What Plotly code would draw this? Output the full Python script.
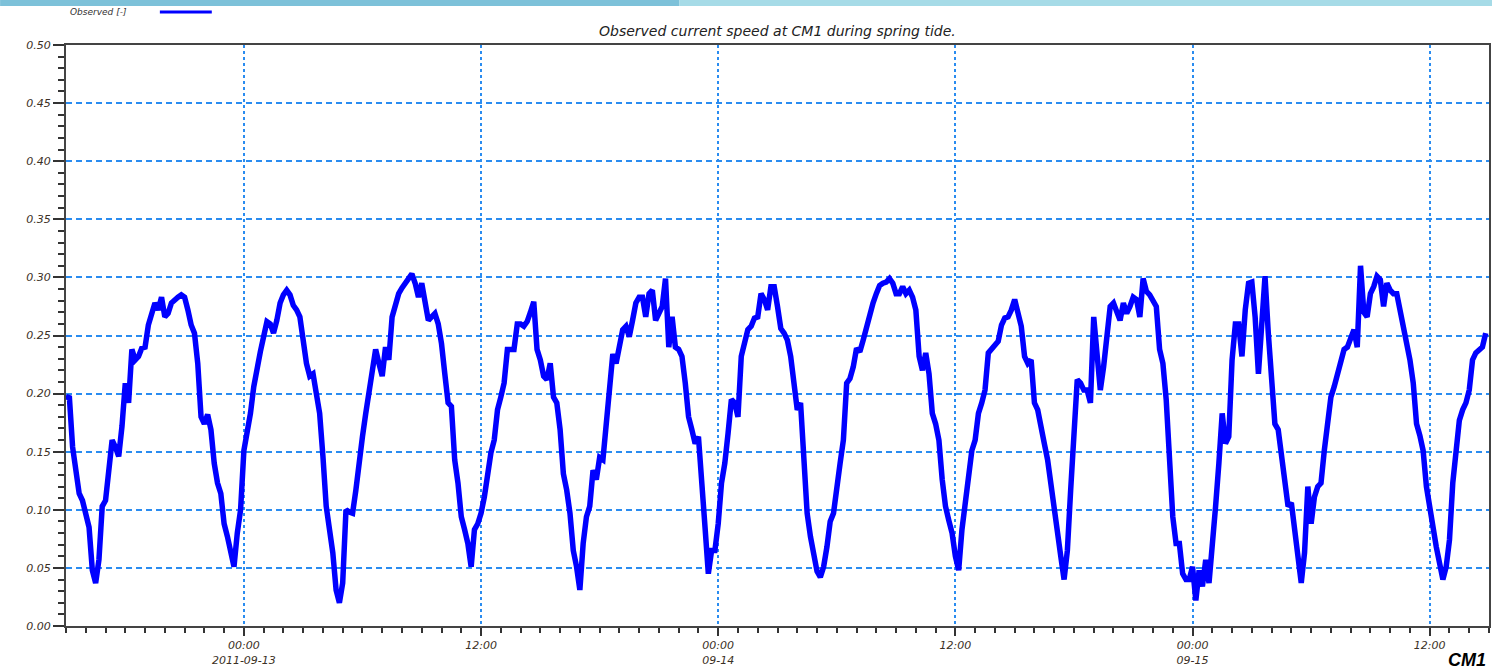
import pandas as pd
import plotly.graph_objects as go

# Observed current speed at CM1, 10-minute samples from 2011-09-12 15:00
start_time = "2011-09-12 15:00"
speed = [
    0.195, 0.198, 0.154, 0.131, 0.114, 0.108, 0.097, 0.085, 0.048, 0.037, 0.057, 0.103,
    0.108, 0.134, 0.160, 0.154, 0.146, 0.172, 0.209, 0.192, 0.238, 0.229, 0.232, 0.239,
    0.240, 0.259, 0.269, 0.278, 0.272, 0.283, 0.266, 0.269, 0.278, 0.281, 0.283, 0.285,
    0.283, 0.272, 0.259, 0.252, 0.226, 0.180, 0.174, 0.182, 0.169, 0.140, 0.123, 0.114,
    0.088, 0.077, 0.063, 0.051, 0.080, 0.100, 0.151, 0.166, 0.183, 0.206, 0.225, 0.236,
    0.249, 0.262, 0.260, 0.252, 0.263, 0.278, 0.285, 0.289, 0.285, 0.276, 0.272, 0.266,
    0.246, 0.226, 0.215, 0.217, 0.200, 0.183, 0.146, 0.103, 0.083, 0.063, 0.031, 0.020,
    0.037, 0.100, 0.098, 0.097, 0.117, 0.146, 0.163, 0.183, 0.203, 0.226, 0.238, 0.226,
    0.215, 0.240, 0.229, 0.266, 0.278, 0.286, 0.291, 0.295, 0.301, 0.303, 0.295, 0.283,
    0.295, 0.278, 0.263, 0.266, 0.269, 0.260, 0.243, 0.217, 0.192, 0.189, 0.143, 0.123,
    0.094, 0.083, 0.071, 0.051, 0.083, 0.088, 0.097, 0.111, 0.131, 0.149, 0.160, 0.186,
    0.197, 0.209, 0.238, 0.238, 0.238, 0.260, 0.260, 0.258, 0.262, 0.270, 0.279, 0.238,
    0.229, 0.215, 0.212, 0.226, 0.197, 0.192, 0.169, 0.131, 0.117, 0.097, 0.065, 0.051,
    0.031, 0.071, 0.094, 0.103, 0.134, 0.126, 0.145, 0.143, 0.174, 0.203, 0.234, 0.226,
    0.238, 0.255, 0.258, 0.249, 0.263, 0.278, 0.283, 0.283, 0.266, 0.286, 0.289, 0.263,
    0.269, 0.275, 0.299, 0.240, 0.266, 0.240, 0.238, 0.232, 0.209, 0.180, 0.169, 0.157,
    0.163, 0.129, 0.085, 0.045, 0.065, 0.065, 0.088, 0.123, 0.140, 0.166, 0.195, 0.192,
    0.180, 0.232, 0.243, 0.255, 0.258, 0.265, 0.266, 0.286, 0.281, 0.272, 0.292, 0.292,
    0.275, 0.256, 0.252, 0.246, 0.232, 0.203, 0.186, 0.192, 0.151, 0.097, 0.077, 0.060,
    0.047, 0.042, 0.051, 0.068, 0.090, 0.097, 0.123, 0.140, 0.160, 0.209, 0.213, 0.223,
    0.239, 0.236, 0.246, 0.258, 0.269, 0.278, 0.286, 0.293, 0.295, 0.296, 0.299, 0.295,
    0.286, 0.286, 0.292, 0.286, 0.289, 0.283, 0.272, 0.232, 0.220, 0.235, 0.217, 0.183,
    0.174, 0.160, 0.126, 0.103, 0.091, 0.080, 0.060, 0.048, 0.083, 0.106, 0.129, 0.151,
    0.160, 0.183, 0.192, 0.203, 0.235, 0.239, 0.243, 0.245, 0.259, 0.265, 0.266, 0.272,
    0.281, 0.270, 0.258, 0.232, 0.226, 0.229, 0.192, 0.186, 0.174, 0.157, 0.143, 0.120,
    0.097, 0.077, 0.060, 0.040, 0.065, 0.117, 0.160, 0.212, 0.209, 0.203, 0.203, 0.192,
    0.266, 0.238, 0.203, 0.223, 0.252, 0.275, 0.278, 0.269, 0.263, 0.278, 0.269, 0.275,
    0.283, 0.281, 0.266, 0.299, 0.288, 0.285, 0.281, 0.275, 0.238, 0.226, 0.195, 0.146,
    0.094, 0.071, 0.071, 0.045, 0.040, 0.040, 0.051, 0.022, 0.048, 0.034, 0.057, 0.037,
    0.065, 0.103, 0.140, 0.183, 0.157, 0.163, 0.229, 0.260, 0.260, 0.232, 0.272, 0.295,
    0.296, 0.266, 0.217, 0.266, 0.301, 0.252, 0.203, 0.174, 0.169, 0.146, 0.123, 0.103,
    0.106, 0.083, 0.065, 0.037, 0.063, 0.120, 0.088, 0.111, 0.120, 0.123, 0.151, 0.172,
    0.197, 0.206, 0.217, 0.226, 0.238, 0.240, 0.249, 0.255, 0.240, 0.310, 0.270, 0.266,
    0.286, 0.292, 0.301, 0.298, 0.275, 0.295, 0.289, 0.286, 0.286, 0.272, 0.258, 0.243,
    0.229, 0.209, 0.174, 0.164, 0.151, 0.120, 0.100, 0.083, 0.068, 0.054, 0.040, 0.051,
    0.074, 0.123, 0.151, 0.177, 0.186, 0.192, 0.203, 0.229, 0.235, 0.238, 0.240, 0.252,
]
times = pd.date_range(start_time, periods=len(speed), freq="10min")

x_range = ["2011-09-12 15:00", "2011-09-15 15:00"]
tick_times = ["2011-09-13 00:00", "2011-09-13 12:00", "2011-09-14 00:00",
              "2011-09-14 12:00", "2011-09-15 00:00", "2011-09-15 12:00"]
tick_labels = ["00:00<br>2011-09-13", "12:00", "00:00<br>09-14",
               "12:00", "00:00<br>09-15", "12:00"]

title_text = "Observed current speed at CM1 during spring tide."
legend_text = "Observed [-]"

W, H = 1494, 670
ML, MR, MT, MB = 66, 3, 45, 44
PW, PH = W - ML - MR, H - MT - MB


def px(x):
    return (x - ML) / PW


def py(y):
    return (H - MB - y) / PH


tick_font = dict(family="DejaVu Sans", size=11, color="#3b3025", style="italic")
grid_blue = "#2a8cf0"

fig = go.Figure()
fig.add_trace(go.Scatter(
    x=times, y=speed, mode="lines", name=legend_text,
    line=dict(color="#0000ff", width=5.5),
    showlegend=False,
))

fig.update_layout(
    width=W, height=H,
    margin=dict(l=ML, r=MR, t=MT, b=MB, pad=0),
    paper_bgcolor="white", plot_bgcolor="white",
    xaxis=dict(
        range=x_range, type="date",
        tickmode="array", tickvals=tick_times, ticktext=tick_labels,
        ticks="outside", ticklen=8, tickwidth=2, tickcolor="#333",
        tickfont=tick_font,
        showline=True, linecolor="#444", linewidth=2, mirror=True,
        showgrid=True, gridcolor=grid_blue, gridwidth=2, griddash="3px,3px",
        zeroline=False,
        minor=dict(dtick=3600000, tick0="2011-09-12 15:00", ticks="outside",
                   ticklen=5, tickwidth=1.5, tickcolor="#333", showgrid=False),
    ),
    yaxis=dict(
        range=[0, 0.5], tickmode="linear", tick0=0, dtick=0.05, tickformat=".2f",
        ticks="outside", ticklen=11, tickwidth=2, tickcolor="#333",
        tickfont=tick_font,
        showline=True, linecolor="#444", linewidth=2, mirror=True,
        showgrid=True, gridcolor=grid_blue, gridwidth=1.5, griddash="6px,4px",
        zeroline=False,
        minor=dict(dtick=0.01, ticks="outside", ticklen=6, tickwidth=1.5,
                   tickcolor="#333", showgrid=False),
    ),
)

# slide header band
fig.add_shape(type="rect", xref="paper", yref="paper",
              x0=px(0), x1=px(680), y0=py(6), y1=py(0),
              fillcolor="#7dc1d9", line_width=0, layer="below")
fig.add_shape(type="rect", xref="paper", yref="paper",
              x0=px(680), x1=px(W), y0=py(6), y1=py(0),
              fillcolor="#a6dbe7", line_width=0, layer="below")

# title
fig.add_annotation(text=title_text, xref="paper", yref="paper",
                   x=0.5, y=1, yanchor="bottom", xanchor="center", yshift=4,
                   showarrow=False,
                   font=dict(family="DejaVu Sans", size=14, color="#222", style="italic"))

# legend entry: label followed by line sample
fig.add_annotation(text=legend_text, xref="paper", yref="paper",
                   x=px(68), y=py(12), xanchor="left", yanchor="middle",
                   showarrow=False,
                   font=dict(family="DejaVu Sans", size=9, color="#333", style="italic"))
fig.add_shape(type="line", xref="paper", yref="paper",
              x0=px(160), x1=px(212), y0=py(12), y1=py(12),
              line=dict(color="#0000ff", width=3))

# station label in the corner
fig.add_annotation(text="<b><i>CM1</i></b>", xref="paper", yref="paper",
                   x=px(1490), y=py(648), xanchor="right", yanchor="top",
                   showarrow=False,
                   font=dict(family="Liberation Sans", size=18, color="black"))

fig.write_html("out.html")
